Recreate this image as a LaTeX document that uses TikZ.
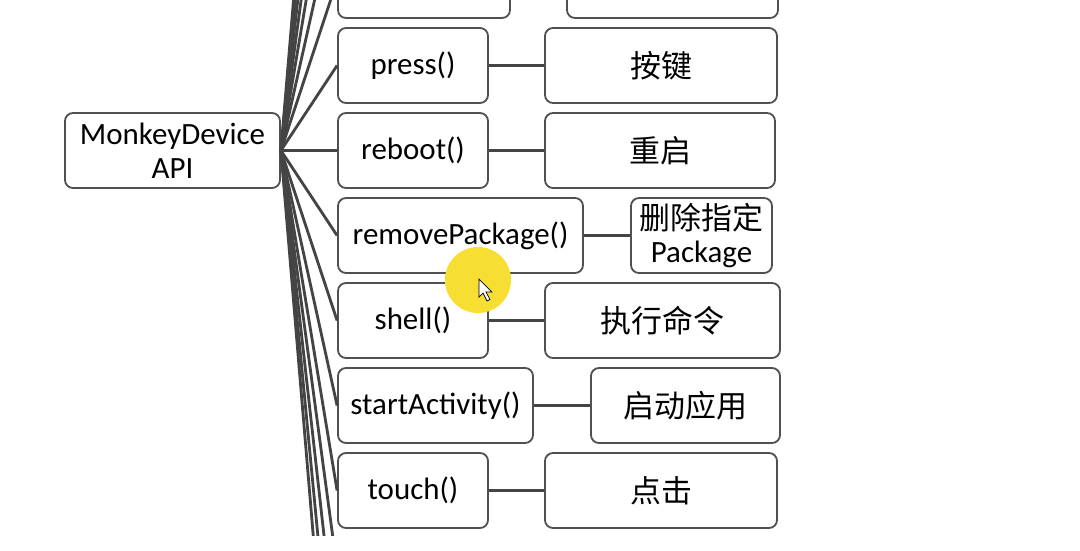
\documentclass[tikz,border=0pt]{standalone}
\usepackage{fontspec}
\setmainfont{Carlito}
\newfontfamily\cjk{Noto Sans CJK SC}
\usetikzlibrary{positioning}
\definecolor{boxline}{RGB}{80,80,80}
\definecolor{linkline}{RGB}{68,68,68}
\definecolor{spot}{RGB}{246,222,50}
\begin{document}
\begin{tikzpicture}[x=0.25mm, y=-0.25mm,
  box/.style={draw=boxline, line width=1.3pt, rounded corners=2mm, fill=white,
    align=center, inner sep=0pt, minimum height=18.75mm,
    font=\fontsize{22}{24}\selectfont},
  link/.style={draw=linkline, line width=2pt}]
  \useasboundingbox (0,0) rectangle (1080,550);
  \fill[white] (0,0) rectangle (1080,550);
  \begin{scope}
  \clip (0,0) rectangle (1080,535);
  % Root
  \node[box, minimum width=53.75mm] (api) at (172.5,150.5) {MonkeyDevice\\API};
  % Free ends for branches outside the view
  \foreach \k in {1,...,6}
    \coordinate (up\k) at (338,{-19.5-85*\k});
  \foreach \k in {0,...,3}
    \coordinate (down\k) at (338,{575.5+85*\k});
  % Method boxes
  \node[box, minimum width=43mm] (top) at (424,-19.5) {};
  \node[box, minimum width=37.5mm] (press) at (413,65.5) {press()};
  \node[box, minimum width=37.5mm] (reboot) at (413,150.5) {reboot()};
  \node[box, minimum width=61.25mm] (remove) at (460.5,235.5) {removePackage()};
  \node[box, minimum width=37.5mm] (shell) at (413,320.5) {shell()};
  \node[box, minimum width=48.75mm] (start) at (435.5,405.5) {startActivity()};
  \node[box, minimum width=37.5mm] (touch) at (413,490.5) {touch()};
  % Description boxes
  \node[box, minimum width=52.75mm] (topD) at (672.5,-19.5) {};
  \node[box, minimum width=58mm] (pressD) at (661,65.5) {\cjk 按键};
  \node[box, minimum width=57.5mm] (rebootD) at (660,150.5) {\cjk 重启};
  \node[box, minimum width=35.25mm] (removeD) at (701.5,235.5) {{\cjk 删除指定}\\Package};
  \node[box, minimum width=58.75mm] (shellD) at (662.5,320.5) {\cjk 执行命令};
  \node[box, minimum width=47.25mm] (startD) at (685.5,405.5) {\cjk 启动应用};
  \node[box, minimum width=58mm] (touchD) at (661,490.5) {\cjk 点击};
  % Branches from the root
  \foreach \n in {up1,up2,up3,up4,up5,up6,down0,down1,down2,down3}
    \draw[link] (api.east) -- (\n);
  \foreach \n in {top,press,reboot,remove,shell,start,touch}
    \draw[link] (api.east) -- (\n.west);
  % Method to description
  \foreach \n in {top,press,reboot,remove,shell,start,touch}
    \draw[link] (\n.east) -- (\n D.west);
  \end{scope}
  % Cursor spot
  \fill[spot] (478,280) circle[radius=33];
  \draw[black, fill=white, line width=0.5pt] (479,279) -- ++(0,18) -- ++(4,-4)
    -- ++(4,8) -- ++(3,-1.5) -- ++(-4,-7.5) -- ++(6,0) -- cycle;
\end{tikzpicture}
\end{document}
